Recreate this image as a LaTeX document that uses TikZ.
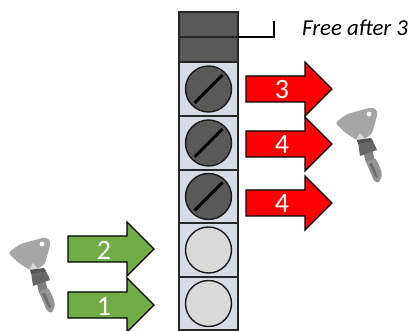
\documentclass[tikz,border=0pt]{standalone}
\usepackage{fontspec}
\setmainfont{Carlito}
\usetikzlibrary{positioning}

\definecolor{cellblue}{HTML}{D6DCE5}
\definecolor{darkgray}{HTML}{595959}
\definecolor{lightdisc}{HTML}{D9D9D9}
\definecolor{arrowred}{HTML}{FF0000}
\definecolor{arrowgreen}{HTML}{70AD47}

\tikzset{
  cell/.style={draw=black!85, line width=1.8pt, fill=cellblue, minimum width=59pt, minimum height=53.5pt, inner sep=0pt, outer sep=0pt},
  topcell/.style={cell, fill=darkgray, minimum height=25pt},
  disc/.style={draw=black!90, line width=1.4pt, circle, minimum size=46pt, inner sep=0pt},
  blocklabel/.style={text=white, font=\fontsize{28}{28}\selectfont, inner sep=0pt},
  pics/blockarrow/.style 2 args={code={
    \draw[draw=black, line width=1.3pt, fill=#1, line join=miter]
      (0,-13) -- (59,-13) -- (59,-27) -- (86,0) -- (59,27) -- (59,13) -- (0,13) -- cycle;
    \node[blocklabel] (-label) at (36,1) {#2};
  }},
  pics/liftkey/.style={code={
    % local origin sits on the hole of the key
    \fill[black!50] (-5,40) -- (3,36) -- (6,46) -- (-3,49) -- cycle;
    \fill[black!42, rounded corners=1.5pt] (-3,48) -- (6,44) .. controls (10,50) and (12,56) .. (13,61) -- (10,69) -- (5,67) -- cycle;
    \fill[black!58] (0,50) -- (3,49) -- (9,63) -- (7,64) -- cycle;
    \fill[black!60] (-11,28) -- (3,25) -- (8,36) -- (-9,42) -- cycle;
    \fill[black!35, rounded corners=3pt] (-34,9) -- (-22,0) -- (4,-7) -- (9,-2) -- (3,20) -- (-9,28) -- (-22,20) -- cycle;
    \fill[black!15] (-13,26) -- (-9,19) -- (-4,25) -- cycle;
    \fill[black!68] (-12,26) -- (2,24) -- (3,27) -- (-11,30) -- cycle;
    \fill[white] (0,0) circle (2.4);
  }}
}

\begin{document}
\begin{tikzpicture}[x=1pt, y=-1pt, line cap=round]
  \useasboundingbox (0,0) rectangle (408,331);

  % column of cells
  \node[topcell] (top1) at (208.5,24.5) {};
  \node[topcell, below=0pt of top1] (top2) {};
  \foreach \n/\cy in {1/89,2/143,3/196.5,4/250,5/303.5}
    \node[cell] (cell\n) at (208.5,\cy) {};

  % screws, closed ones have a slot
  \foreach \n in {1,2,3} {
    \node[disc, fill=darkgray] (screw\n) at (cell\n) {};
    \draw[line width=3pt, line cap=butt] ([shift={(-14,14)}]screw\n.center) -- ([shift={(14,-14)}]screw\n.center);
  }
  \foreach \n in {4,5}
    \node[disc, fill=lightdisc] (screw\n) at (cell\n) {};

  % free marker
  \coordinate (freeCorner) at (274,37);
  \coordinate (freeEnd) at (274,21);
  \draw[line width=1.3pt, line cap=butt] (top1.south east) -- (freeCorner) -- (freeEnd);
  \node[anchor=west, inner sep=0pt, font=\fontsize{22.8}{24}\selectfont\itshape] (freeText) at (302,28) {Free after 3};

  % block arrows
  \pic (out3) at (246,89) {blockarrow={arrowred}{3}};
  \pic (out4a) at (246,144) {blockarrow={arrowred}{4}};
  \pic (out4b) at (246,203) {blockarrow={arrowred}{4}};
  \pic (in2) at (68,249) {blockarrow={arrowgreen}{2}};
  \pic (in1) at (68,305) {blockarrow={arrowgreen}{1}};

  % keys
  \pic at (369,114) {liftkey};
  \pic at (42,244) {liftkey};
\end{tikzpicture}
\end{document}
